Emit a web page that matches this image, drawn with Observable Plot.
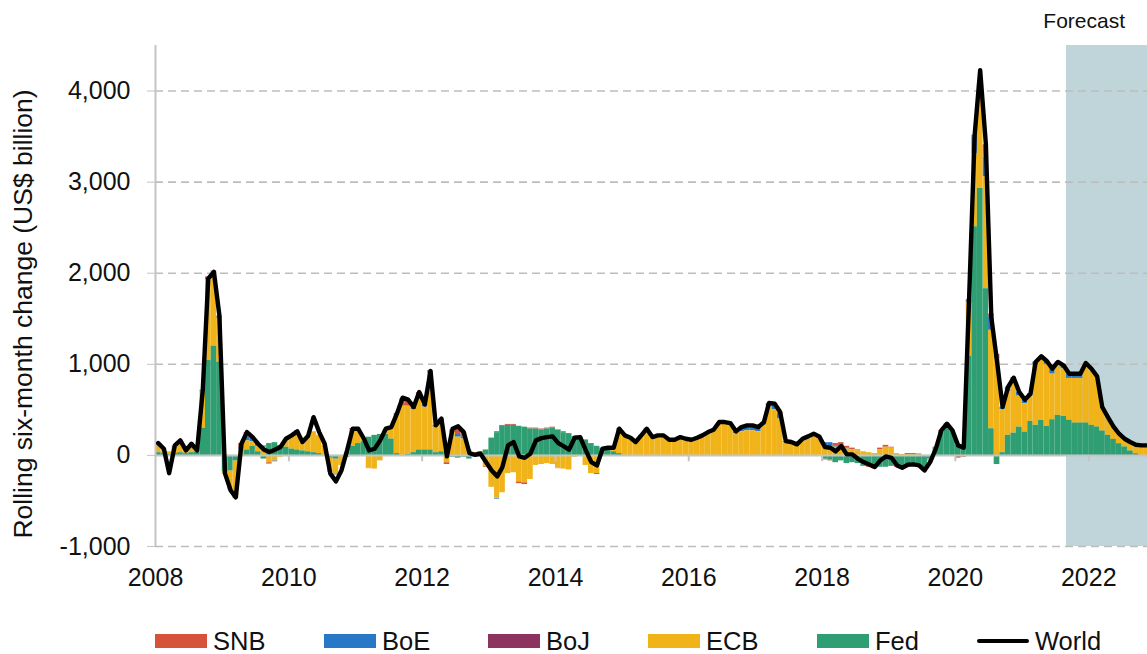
<!DOCTYPE html>
<html><head><meta charset="utf-8">
<script src="https://cdn.jsdelivr.net/npm/d3@7"></script>
<script src="https://cdn.jsdelivr.net/npm/@observablehq/plot@0.6"></script>
<style>
body{margin:0;background:#fff;font-family:"Liberation Sans",Arial,sans-serif;}
#wrap{position:relative;width:1147px;height:654px;overflow:hidden;}
.legend{position:absolute;top:626px;left:0;width:1147px;height:30px;font-size:25.5px;color:#111}
.item{position:absolute;top:0;display:flex;align-items:center;height:30px;white-space:nowrap}
.sw{width:52px;height:14px;margin-right:6px}
.ln{width:52px;height:3.5px;background:#000;margin-right:6px;border-radius:2px}
</style></head><body><div id="wrap"></div>
<script>
// Monthly values, Jan 2008 .. Nov 2022 (179 months), US$ billion
const banks = ["SNB", "BoE", "BoJ", "ECB", "Fed"];
const bankColors = ["#d4533a", "#2878c8", "#8c3360", "#f0b41a", "#2f9e72"];
const stackOrder = ["Fed", "ECB", "BoJ", "BoE", "SNB"];

const world = [
 135, 73, -195, 110, 165, 55, 128, 55, 715, 1940,
 2015, 1540, -200, -385, -460, 128, 256, 200, 128, 66,
 37, 62, 92, 183, 220, 264, 147, 212, 420, 256,
 128, -200, -285, -165, 55, 293, 293, 183, 55, 73,
 165, 293, 311, 458, 634, 612, 531, 696, 560, 927,
 330, 403, -10, 293, 319, 256, 26, 7, 18, -73,
 -165, -230, -128, 110, 147, -11, -26, 18, 165, 190,
 201, 209, 135, 99, 62, 194, 201, 55, -73, -110,
 73, 84, 84, 293, 220, 194, 147, 220, 293, 201,
 220, 220, 172, 172, 201, 183, 172, 194, 220, 256,
 282, 366, 366, 355, 264, 311, 330, 330, 311, 366,
 575, 568, 476, 157, 147, 121, 183, 209, 238, 209,
 92, 84, 44, 103, 11, 11, -37, -73, -99, -128,
 -55, -11, -26, -110, -136, -103, -99, -110, -165, -73,
 73, 275, 348, 275, 110, 84, 1700, 3520, 4230, 3425,
 1520, 1040, 531, 751, 853, 696, 612, 678, 1026, 1088,
 1037, 952, 1026, 989, 897, 897, 897, 1015, 952, 868,
 531, 421, 319, 238, 183, 147, 117, 110, 110
];
const fed = [
 30, 20, 10, 20, 30, 20, 30, 40, 300, 1045,
 1200, 1025, -180, -170, -60, 0, 60, 100, 40, -40,
 130, 140, 110, 90, 70, 60, 50, 40, 30, 20,
 0, -30, -40, -10, 30, 100, 130, 150, 200, 220,
 230, 230, 180, 20, 0, 10, 30, 60, 60, 60,
 30, 40, 40, -20, -30, -20, -40, -20, 10, 60,
 190, 250, 319, 330, 330, 320, 310, 290, 290, 280,
 290, 300, 280, 250, 230, 210, 200, 170, 130, 100,
 80, 60, 40, 20, 0, 0, 0, 0, 0, 0,
 -5, 0, 0, 0, 0, 0, 0, 0, 0, 0,
 0, 0, -5, 0, 0, 0, 0, 0, 0, 0,
 0, 0, 0, 0, 0, 0, 0, 0, 0, 0,
 -40, -50, -80, -60, -90, -80, -90, -110, -120, -130,
 -130, -130, -120, -120, -130, -120, -110, -115, -140, -40,
 90, 260, 340, 270, 110, 90, 1090, 2510, 2930, 1830,
 293, -100, 30, 220, 245, 311, 256, 374, 330, 385,
 319, 392, 440, 429, 385, 355, 355, 355, 330, 311,
 267, 220, 176, 128, 92, 48, 18, 0, 0
];
const ecb = [
 80, 50, 30, 70, 90, 60, 70, 50, 400, 880,
 790, 480, -30, -215, -400, 60, 100, 50, 60, 90,
 -80, -60, -20, 90, 150, 200, 100, 170, 230, 200,
 110, -150, -170, -100, -10, 180, 150, 30, -140, -150,
 -60, 50, 130, 420, 540, 530, 470, 550, 470, 840,
 280, 300, -80, 250, 200, 180, 60, 30, 20, -120,
 -350, -470, -410, -200, -190, -290, -300, -265, -110, -100,
 -90, -100, -140, -150, -160, -20, 0, -110, -200, -200,
 -10, 20, 40, 260, 215, 190, 145, 210, 280, 200,
 215, 215, 170, 170, 195, 180, 170, 190, 215, 250,
 275, 340, 340, 330, 240, 260, 270, 270, 260, 330,
 530, 500, 400, 140, 130, 110, 160, 180, 210, 180,
 100, 100, 90, 100, 70, 60, 50, 40, 30, 20,
 60, 90, 80, 20, 10, 10, 10, 5, -10, -10,
 0, 0, 0, 0, -10, -5, 590, 800, 1050, 1230,
 1080, 1060, 470, 480, 560, 340, 310, 270, 660, 660,
 680, 500, 545, 520, 460, 490, 490, 660, 620, 555,
 264, 200, 143, 110, 90, 100, 100, 110, 110
];
const boe = [
 10, 5, 0, 5, 10, 5, 5, 0, 10, 20,
 20, 15, 0, 0, -10, 30, 40, 40, 20, 10,
 0, -10, 0, 0, 0, 10, 0, 0, 0, 0,
 0, -5, -5, 0, 0, 0, 0, 0, 0, 0,
 0, 0, 0, 0, 0, 0, 30, 60, 30, 30,
 20, 60, 0, 0, 30, 20, 0, 0, 10, 0,
 0, -10, 0, 0, 0, 0, 0, 0, 0, 0,
 0, 0, 0, 0, 0, 0, 0, 0, 0, -10,
 0, 0, 0, 10, 5, 0, 0, 10, 0, 0,
 0, 0, 0, 0, 0, 0, 0, 0, 0, 0,
 0, 0, 0, 20, 20, 40, 50, 50, 50, 30,
 30, 50, 50, 10, 10, 0, 10, 0, 0, 0,
 40, 40, 10, 10, 10, 0, 0, 0, 0, 0,
 0, 0, 0, 0, 0, 0, 0, 0, -10, -10,
 0, 0, 0, 0, 0, 0, 20, 180, 70, 220,
 150, 20, 30, 50, 50, 45, 45, 35, 35, 40,
 40, 60, 40, 40, 50, 50, 50, 0, 0, 0,
 0, 0, 0, 0, 0, 0, 0, 0, 0
];
const snb = [
 5, 0, 0, 5, 5, 0, 5, 0, 5, 10,
 10, 10, 0, 0, 0, 40, 50, 10, 10, 5,
 -15, 0, 0, 0, 0, 0, 0, 0, 0, 0,
 0, 0, 0, 0, -10, 15, 0, 0, -5, 0,
 0, 0, 0, 20, 80, 70, 0, 20, 0, 0,
 0, 0, -20, 30, 60, 50, 0, 0, 0, -10,
 0, 10, 10, 10, 10, -20, -20, 10, 10, 10,
 10, 10, -5, 10, 10, 0, 0, 0, 0, 0,
 0, 0, 0, 0, 0, 0, 0, 0, 10, 0,
 0, 0, 0, 0, 0, 0, 0, 0, 0, 0,
 0, 20, 20, 0, 0, 0, 0, 0, 0, 0,
 10, 10, 20, 0, 0, 0, 0, 15, 20, 20,
 -10, -10, 30, 30, 20, 20, 10, -10, -10, -15,
 20, 20, 10, -10, -10, 10, 10, 10, 0, 0,
 0, 10, 10, 0, -20, -15, 10, 20, 20, 130,
 30, 30, 0, 0, 0, 0, 0, 0, 0, 0,
 0, 0, 0, 0, 0, 0, 0, 0, 0, 0,
 0, 0, 0, 0, 0, 0, 0, 0, 0
];
const boj = [
 0, 0, 0, 0, 0, 0, 0, 0, 0, 5,
 5, 0, 0, 0, 0, 0, 0, 0, 0, 0,
 0, 0, 0, 0, 0, 0, 0, 0, 0, 0,
 0, 0, 0, 0, 0, 0, 0, 0, 0, 0,
 0, 0, 0, 0, 0, 0, 0, 0, 0, 0,
 0, 0, 0, 0, 0, 0, 0, 0, 0, 0,
 0, 0, 0, 0, 0, 0, 0, 0, 0, 0,
 0, 0, 0, 0, 0, 0, 0, 0, 0, 0,
 0, 0, 0, 0, 0, 0, 0, 0, 0, 0,
 0, 0, 0, 0, 0, 0, 0, 0, 0, 0,
 0, 0, 0, 0, 0, 0, 0, 0, 0, 0,
 0, 0, 0, 0, 0, 0, 0, 0, 0, 0,
 0, 0, 0, 0, 0, 0, 0, 0, 0, 0,
 0, 0, 0, 0, 0, 0, 0, 0, 0, 0,
 0, 0, 0, 0, 0, 0, 0, 5, 5, 0,
 0, 0, 0, 0, 0, 0, 0, 0, 0, 0,
 0, 0, 0, 0, 0, 0, 0, 0, 0, 0,
 0, 0, 0, 0, 0, 0, 0, 0, 0
];
const yTicks = [-1000, 0, 1000, 2000, 3000, 4000];
const xTickYears = [2008, 2010, 2012, 2014, 2016, 2018, 2020, 2022];
const forecastStart = "2021-09-01";
const forecastLabel = "Forecast";
const yTitle = "Rolling six-month change (US$ billion)";

// ---- build tables ----
const t0 = new Date(Date.UTC(2008, 0, 1));
const months = world.map((_, i) => d3.utcMonth.offset(t0, i));
const series = {SNB: snb, BoE: boe, BoJ: boj, ECB: ecb, Fed: fed};
const rows = banks.flatMap(b => series[b].map((v, i) => ({date: months[i], bank: b, value: v})));
const lineRows = world.map((v, i) => ({date: d3.utcDay.offset(months[i], 15), value: v}));
const xEnd = new Date(Date.UTC(2022, 10, 19));
const tickDates = xTickYears.map(y => new Date(Date.UTC(y, 0, 1)));
const fmt = d => (d < 0 ? "-" : "") + d3.format(",")(Math.abs(d));

const chart = Plot.plot({
  width: 1147, height: 600,
  marginLeft: 155, marginRight: 0, marginTop: 45, marginBottom: 54,
  style: {fontFamily: '"Liberation Sans", Arial, sans-serif', fontSize: "25px", color: "#111", background: "#fff", overflow: "hidden"},
  x: {type: "utc", domain: [t0, xEnd]},
  y: {domain: [-1000, 4500]},
  color: {domain: banks, range: bankColors},
  marks: [
    Plot.rect([{start: new Date(forecastStart), end: xEnd}], {x1: "start", x2: "end", y1: -1000, y2: 4500, fill: "#c0d5da"}),
    Plot.gridY(yTicks.filter(d => d !== 0), {stroke: "#bdbdbd", strokeOpacity: 1, strokeWidth: 1.6, strokeDasharray: "8,5"}),
    Plot.rectY(rows, {x: "date", interval: "month", y: "value", fill: "bank", order: stackOrder, insetLeft: 0, insetRight: 0, clip: true}),
    Plot.ruleY([0], {stroke: "#c4c4c4", strokeWidth: 2}),
    Plot.ruleX(tickDates.slice(1), {y1: 0, y2: -70, stroke: "#c4c4c4", strokeWidth: 2}),
    Plot.ruleX([t0], {stroke: "#c4c4c4", strokeWidth: 2}),
    Plot.line(lineRows, {x: "date", y: "value", stroke: "#000", strokeWidth: 4.4, strokeLinejoin: "round", clip: true}),
    Plot.axisY(yTicks, {tickSize: 8, tickPadding: 17, tickFormat: fmt, stroke: "#c4c4c4", fill: "#111", label: null, fontSize: 25}),
    Plot.text([yTitle], {frameAnchor: "left", dx: -132, dy: 18, rotate: -90, fontSize: 26.5, textAnchor: "middle", lineAnchor: "middle", fill: "#111"}),
    Plot.axisX(tickDates, {tickSize: 0, tickPadding: 22, tickFormat: d3.utcFormat("%Y"), label: null, fill: "#111", fontSize: 25}),
    Plot.text([{date: d3.utcDay.offset(new Date(Date.UTC(2022, 0, 1)), -25), label: forecastLabel}],
      {x: "date", y: 4500, text: "label", dy: -24, fontSize: 21, fill: "#111", textAnchor: "middle"})
  ]
});

const wrap = document.getElementById("wrap");
wrap.appendChild(chart);

const legend = document.createElement("div");
legend.className = "legend";
const legendLefts = [155, 324, 488, 648, 817];
banks.forEach((b, i) => {
  const it = document.createElement("div");
  it.className = "item";
  it.style.left = legendLefts[i] + "px";
  it.innerHTML = `<span class="sw" style="background:${bankColors[i]}"></span><span>${b}</span>`;
  legend.appendChild(it);
});
const wi = document.createElement("div");
wi.className = "item";
wi.style.left = "977px";
wi.innerHTML = `<span class="ln"></span><span>World</span>`;
legend.appendChild(wi);
wrap.appendChild(legend);
</script></body></html>
